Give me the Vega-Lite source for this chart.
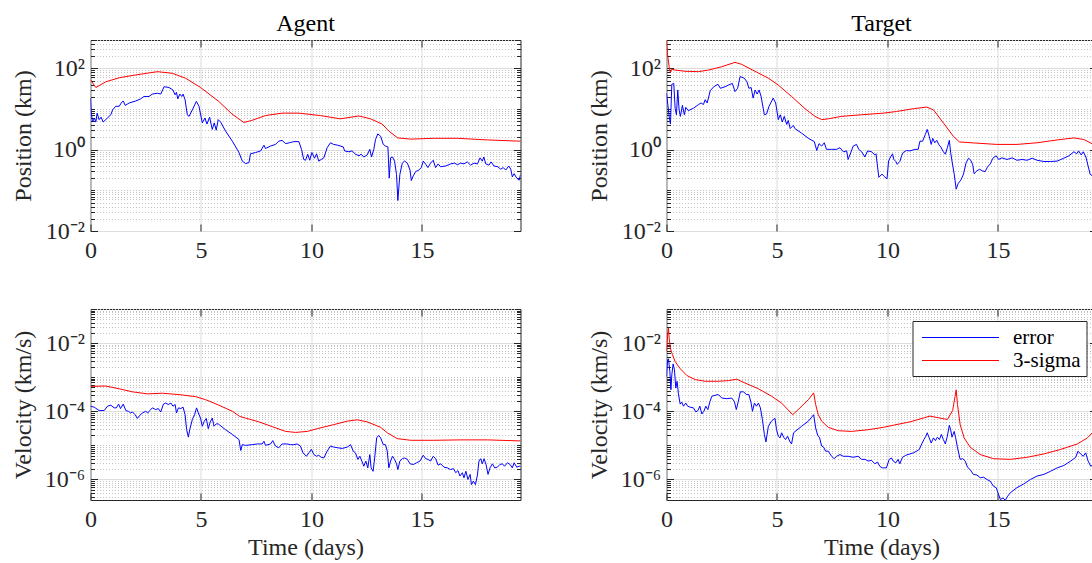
{
  "$schema": "https://vega.github.io/schema/vega-lite/v6.json",
  "background": "white",
  "padding": {"left": 10.5, "top": 11, "right": 0, "bottom": 0},
  "datasets": {
    "agentPos": [
      {"series":"3-sigma","t":0,"v":52.5},{"series":"3-sigma","t":0.24,"v":33.9},{"series":"3-sigma","t":0.69,"v":46.8},{"series":"3-sigma","t":1.3,"v":58.9},{"series":"3-sigma","t":2.05,"v":69.2},{"series":"3-sigma","t":3.03,"v":83.2},{"series":"3-sigma","t":3.7,"v":75.9},{"series":"3-sigma","t":4.3,"v":57.5},{"series":"3-sigma","t":4.98,"v":33.9},{"series":"3-sigma","t":5.8,"v":15.5},{"series":"3-sigma","t":6.4,"v":7.59},{"series":"3-sigma","t":6.94,"v":4.68},{"series":"3-sigma","t":7.3,"v":5.25},{"series":"3-sigma","t":7.92,"v":6.92},{"series":"3-sigma","t":8.67,"v":7.94},{"series":"3-sigma","t":9.43,"v":7.94},{"series":"3-sigma","t":10.4,"v":6.92},{"series":"3-sigma","t":11.3,"v":5.75},{"series":"3-sigma","t":12.15,"v":6.76},{"series":"3-sigma","t":12.67,"v":5.75},{"series":"3-sigma","t":13.2,"v":4.27},{"series":"3-sigma","t":13.5,"v":2.88},{"series":"3-sigma","t":13.9,"v":1.95},{"series":"3-sigma","t":14.5,"v":1.82},{"series":"3-sigma","t":15.55,"v":1.91},{"series":"3-sigma","t":16.6,"v":1.91},{"series":"3-sigma","t":17.96,"v":1.74},{"series":"3-sigma","t":19.46,"v":1.62},
      {"series":"error","t":0,"v":18.6},{"series":"error","t":0.03,"v":8.71},{"series":"error","t":0.09,"v":4.79},{"series":"error","t":0.18,"v":6.03},{"series":"error","t":0.24,"v":4.79},{"series":"error","t":0.3,"v":7.94},{"series":"error","t":0.39,"v":5.5},{"series":"error","t":0.48,"v":6.31},{"series":"error","t":0.57,"v":4.79},{"series":"error","t":0.69,"v":5.5},{"series":"error","t":0.92,"v":7.24},{"series":"error","t":1.0,"v":9.55},{"series":"error","t":1.14,"v":11.7},{"series":"error","t":1.3,"v":11.7},{"series":"error","t":1.39,"v":14.1},{"series":"error","t":1.48,"v":15.8},{"series":"error","t":1.57,"v":12.3},{"series":"error","t":1.75,"v":14.1},{"series":"error","t":2.05,"v":15.8},{"series":"error","t":2.27,"v":17.8},{"series":"error","t":2.42,"v":20.4},{"series":"error","t":2.65,"v":20.4},{"series":"error","t":2.8,"v":23.4},{"series":"error","t":3.03,"v":24.5},{"series":"error","t":3.18,"v":23.4},{"series":"error","t":3.33,"v":35.5},{"series":"error","t":3.55,"v":33.9},{"series":"error","t":3.73,"v":29.5},{"series":"error","t":3.83,"v":22.4},{"series":"error","t":3.89,"v":25.7},{"series":"error","t":3.95,"v":17.8},{"series":"error","t":4.04,"v":23.4},{"series":"error","t":4.13,"v":20.4},{"series":"error","t":4.19,"v":23.4},{"series":"error","t":4.28,"v":17.0},{"series":"error","t":4.38,"v":7.24},{"series":"error","t":4.46,"v":6.61},{"series":"error","t":4.61,"v":9.55},{"series":"error","t":4.79,"v":15.5},{"series":"error","t":4.91,"v":11.7},{"series":"error","t":5.06,"v":4.57},{"series":"error","t":5.18,"v":6.03},{"series":"error","t":5.27,"v":4.27},{"series":"error","t":5.39,"v":6.31},{"series":"error","t":5.51,"v":3.16},{"series":"error","t":5.6,"v":4.57},{"series":"error","t":5.69,"v":3.02},{"series":"error","t":5.78,"v":5.5},{"series":"error","t":5.89,"v":4.79},{"series":"error","t":6.11,"v":2.88},{"series":"error","t":6.42,"v":1.62},{"series":"error","t":6.72,"v":0.851},{"series":"error","t":6.87,"v":0.525},{"series":"error","t":7.02,"v":0.457},{"series":"error","t":7.17,"v":0.479},{"series":"error","t":7.24,"v":0.794},{"series":"error","t":7.47,"v":0.851},{"series":"error","t":7.7,"v":0.933},{"series":"error","t":7.85,"v":1.29},{"series":"error","t":7.92,"v":1.07},{"series":"error","t":8.15,"v":1.23},{"series":"error","t":8.37,"v":1.35},{"series":"error","t":8.52,"v":1.62},{"series":"error","t":8.67,"v":1.7},{"series":"error","t":8.83,"v":1.41},{"series":"error","t":9.0,"v":1.48},{"series":"error","t":9.2,"v":1.58},{"series":"error","t":9.43,"v":1.58},{"series":"error","t":9.55,"v":1.02},{"series":"error","t":9.65,"v":0.575},{"series":"error","t":9.73,"v":0.55},{"series":"error","t":9.83,"v":0.776},{"series":"error","t":9.92,"v":0.55},{"series":"error","t":10.02,"v":0.851},{"series":"error","t":10.14,"v":0.617},{"series":"error","t":10.23,"v":0.794},{"series":"error","t":10.33,"v":0.525},{"series":"error","t":10.44,"v":0.575},{"series":"error","t":10.56,"v":0.631},{"series":"error","t":10.71,"v":1.12},{"series":"error","t":10.86,"v":1.48},{"series":"error","t":11.0,"v":1.35},{"series":"error","t":11.19,"v":1.29},{"series":"error","t":11.44,"v":1.17},{"series":"error","t":11.5,"v":0.933},{"series":"error","t":11.69,"v":0.891},{"series":"error","t":11.84,"v":0.933},{"series":"error","t":11.99,"v":0.776},{"series":"error","t":12.15,"v":0.708},{"series":"error","t":12.25,"v":0.776},{"series":"error","t":12.37,"v":0.661},{"series":"error","t":12.52,"v":0.741},{"series":"error","t":12.64,"v":1.02},{"series":"error","t":12.72,"v":0.661},{"series":"error","t":12.82,"v":1.02},{"series":"error","t":12.9,"v":1.78},{"series":"error","t":13.0,"v":2.45},{"series":"error","t":13.13,"v":2.14},{"series":"error","t":13.25,"v":1.35},{"series":"error","t":13.35,"v":1.23},{"series":"error","t":13.46,"v":1.17},{"series":"error","t":13.52,"v":0.2},{"series":"error","t":13.58,"v":0.631},{"series":"error","t":13.67,"v":0.661},{"series":"error","t":13.76,"v":0.525},{"series":"error","t":13.85,"v":0.245},{"series":"error","t":13.91,"v":0.0562},{"series":"error","t":14.0,"v":0.245},{"series":"error","t":14.11,"v":0.468},{"series":"error","t":14.21,"v":0.525},{"series":"error","t":14.34,"v":0.468},{"series":"error","t":14.46,"v":0.316},{"series":"error","t":14.52,"v":0.174},{"series":"error","t":14.61,"v":0.229},{"series":"error","t":14.71,"v":0.288},{"series":"error","t":14.86,"v":0.316},{"series":"error","t":14.97,"v":0.363},{"series":"error","t":15.06,"v":0.525},{"series":"error","t":15.17,"v":0.437},{"series":"error","t":15.27,"v":0.363},{"series":"error","t":15.39,"v":0.468},{"series":"error","t":15.51,"v":0.55},{"series":"error","t":15.62,"v":0.363},{"series":"error","t":15.73,"v":0.447},{"series":"error","t":15.85,"v":0.38},{"series":"error","t":16.07,"v":0.398},{"series":"error","t":16.3,"v":0.447},{"series":"error","t":16.48,"v":0.468},{"series":"error","t":16.6,"v":0.427},{"series":"error","t":16.75,"v":0.468},{"series":"error","t":16.9,"v":0.447},{"series":"error","t":17.05,"v":0.501},{"series":"error","t":17.2,"v":0.417},{"series":"error","t":17.36,"v":0.468},{"series":"error","t":17.51,"v":0.447},{"series":"error","t":17.63,"v":0.631},{"series":"error","t":17.73,"v":0.525},{"series":"error","t":17.8,"v":0.661},{"series":"error","t":17.89,"v":0.447},{"series":"error","t":18.03,"v":0.417},{"series":"error","t":18.13,"v":0.501},{"series":"error","t":18.26,"v":0.398},{"series":"error","t":18.44,"v":0.38},{"series":"error","t":18.56,"v":0.331},{"series":"error","t":18.68,"v":0.363},{"series":"error","t":18.79,"v":0.316},{"series":"error","t":18.93,"v":0.398},{"series":"error","t":19.02,"v":0.331},{"series":"error","t":19.09,"v":0.214},{"series":"error","t":19.17,"v":0.257},{"series":"error","t":19.29,"v":0.2},{"series":"error","t":19.4,"v":0.178},{"series":"error","t":19.46,"v":0.245}
    ],
    "targetPos": [
      {"series":"3-sigma","t":0,"v":490},{"series":"3-sigma","t":0.05,"v":214},{"series":"3-sigma","t":0.12,"v":110},{"series":"3-sigma","t":0.18,"v":79.4},{"series":"3-sigma","t":0.24,"v":95.5},{"series":"3-sigma","t":0.39,"v":91.2},{"series":"3-sigma","t":0.84,"v":85.1},{"series":"3-sigma","t":1.45,"v":83.2},{"series":"3-sigma","t":1.9,"v":91.2},{"series":"3-sigma","t":2.5,"v":110},{"series":"3-sigma","t":3.1,"v":141},{"series":"3-sigma","t":3.4,"v":126},{"series":"3-sigma","t":4.0,"v":85.1},{"series":"3-sigma","t":4.61,"v":57.5},{"series":"3-sigma","t":5.06,"v":38.9},{"series":"3-sigma","t":5.66,"v":20.4},{"series":"3-sigma","t":6.27,"v":10.2},{"series":"3-sigma","t":6.72,"v":6.61},{"series":"3-sigma","t":7.02,"v":5.5},{"series":"3-sigma","t":7.32,"v":5.75},{"series":"3-sigma","t":7.92,"v":6.61},{"series":"3-sigma","t":8.83,"v":7.24},{"series":"3-sigma","t":9.82,"v":7.94},{"series":"3-sigma","t":10.41,"v":8.71},{"series":"3-sigma","t":11.17,"v":10.2},{"series":"3-sigma","t":11.77,"v":11.2},{"series":"3-sigma","t":12.08,"v":9.55},{"series":"3-sigma","t":12.53,"v":4.57},{"series":"3-sigma","t":12.98,"v":2.14},{"series":"3-sigma","t":13.26,"v":1.55},{"series":"3-sigma","t":14.05,"v":1.45},{"series":"3-sigma","t":14.95,"v":1.35},{"series":"3-sigma","t":15.86,"v":1.35},{"series":"3-sigma","t":16.77,"v":1.48},{"series":"3-sigma","t":17.68,"v":1.74},{"series":"3-sigma","t":18.44,"v":1.95},{"series":"3-sigma","t":18.89,"v":1.78},{"series":"3-sigma","t":19.32,"v":1.35},{"series":"3-sigma","t":19.46,"v":1.2},
      {"series":"error","t":0,"v":24.5},{"series":"error","t":0.06,"v":12.9},{"series":"error","t":0.12,"v":6.61},{"series":"error","t":0.18,"v":4.27},{"series":"error","t":0.24,"v":40.7},{"series":"error","t":0.33,"v":42.7},{"series":"error","t":0.39,"v":10.5},{"series":"error","t":0.45,"v":7.24},{"series":"error","t":0.51,"v":29.5},{"series":"error","t":0.57,"v":9.55},{"series":"error","t":0.63,"v":6.61},{"series":"error","t":0.72,"v":12.3},{"series":"error","t":0.81,"v":7.24},{"series":"error","t":0.87,"v":11.0},{"series":"error","t":0.99,"v":9.12},{"series":"error","t":1.22,"v":10.5},{"series":"error","t":1.45,"v":12.9},{"series":"error","t":1.57,"v":14.1},{"series":"error","t":1.67,"v":12.9},{"series":"error","t":1.75,"v":17.0},{"series":"error","t":1.84,"v":14.1},{"series":"error","t":1.98,"v":28.2},{"series":"error","t":2.14,"v":35.5},{"series":"error","t":2.33,"v":40.7},{"series":"error","t":2.44,"v":32.4},{"series":"error","t":2.65,"v":35.5},{"series":"error","t":2.88,"v":40.7},{"series":"error","t":2.98,"v":42.7},{"series":"error","t":3.1,"v":26.9},{"series":"error","t":3.22,"v":32.4},{"series":"error","t":3.33,"v":63.1},{"series":"error","t":3.52,"v":57.5},{"series":"error","t":3.64,"v":46.8},{"series":"error","t":3.73,"v":32.4},{"series":"error","t":3.83,"v":33.9},{"series":"error","t":3.92,"v":18.6},{"series":"error","t":4.01,"v":29.5},{"series":"error","t":4.1,"v":23.4},{"series":"error","t":4.19,"v":29.5},{"series":"error","t":4.28,"v":20.4},{"series":"error","t":4.43,"v":7.24},{"series":"error","t":4.53,"v":7.59},{"series":"error","t":4.64,"v":11.7},{"series":"error","t":4.83,"v":18.6},{"series":"error","t":4.94,"v":14.1},{"series":"error","t":5.06,"v":5.5},{"series":"error","t":5.15,"v":7.24},{"series":"error","t":5.24,"v":4.79},{"series":"error","t":5.33,"v":6.61},{"series":"error","t":5.44,"v":4.17},{"series":"error","t":5.51,"v":5.25},{"series":"error","t":5.6,"v":3.31},{"series":"error","t":5.74,"v":3.98},{"series":"error","t":5.81,"v":3.31},{"series":"error","t":6.11,"v":2.57},{"series":"error","t":6.42,"v":1.91},{"series":"error","t":6.69,"v":1.58},{"series":"error","t":6.8,"v":0.955},{"series":"error","t":6.9,"v":1.41},{"series":"error","t":7.02,"v":1.23},{"series":"error","t":7.14,"v":1.48},{"series":"error","t":7.24,"v":1.02},{"series":"error","t":7.47,"v":1.02},{"series":"error","t":7.7,"v":1.02},{"series":"error","t":7.85,"v":1.12},{"series":"error","t":8.0,"v":0.891},{"series":"error","t":8.15,"v":0.933},{"series":"error","t":8.22,"v":0.575},{"series":"error","t":8.34,"v":0.851},{"series":"error","t":8.45,"v":1.23},{"series":"error","t":8.6,"v":1.35},{"series":"error","t":8.7,"v":1.02},{"series":"error","t":8.83,"v":0.891},{"series":"error","t":8.98,"v":0.661},{"series":"error","t":9.1,"v":0.933},{"series":"error","t":9.28,"v":0.891},{"series":"error","t":9.43,"v":0.741},{"series":"error","t":9.48,"v":0.794},{"series":"error","t":9.61,"v":0.209},{"series":"error","t":9.75,"v":0.251},{"series":"error","t":9.88,"v":0.214},{"series":"error","t":9.98,"v":0.191},{"series":"error","t":10.05,"v":0.525},{"series":"error","t":10.14,"v":0.661},{"series":"error","t":10.23,"v":0.794},{"series":"error","t":10.29,"v":0.575},{"series":"error","t":10.38,"v":0.513},{"series":"error","t":10.44,"v":0.437},{"series":"error","t":10.56,"v":0.513},{"series":"error","t":10.64,"v":0.708},{"series":"error","t":10.71,"v":0.851},{"series":"error","t":10.86,"v":0.955},{"series":"error","t":11.02,"v":0.933},{"series":"error","t":11.24,"v":1.02},{"series":"error","t":11.39,"v":1.02},{"series":"error","t":11.47,"v":1.62},{"series":"error","t":11.59,"v":1.62},{"series":"error","t":11.71,"v":2.34},{"series":"error","t":11.8,"v":3.16},{"series":"error","t":11.89,"v":2.14},{"series":"error","t":11.98,"v":1.35},{"series":"error","t":12.05,"v":1.91},{"series":"error","t":12.14,"v":1.48},{"series":"error","t":12.23,"v":1.7},{"series":"error","t":12.32,"v":1.35},{"series":"error","t":12.41,"v":1.17},{"series":"error","t":12.53,"v":0.891},{"series":"error","t":12.62,"v":0.776},{"series":"error","t":12.71,"v":1.12},{"series":"error","t":12.8,"v":1.7},{"series":"error","t":12.86,"v":0.851},{"series":"error","t":12.92,"v":0.525},{"series":"error","t":13.02,"v":0.251},{"series":"error","t":13.11,"v":0.107},{"series":"error","t":13.2,"v":0.148},{"series":"error","t":13.32,"v":0.178},{"series":"error","t":13.44,"v":0.251},{"series":"error","t":13.56,"v":0.479},{"series":"error","t":13.67,"v":0.617},{"series":"error","t":13.77,"v":0.55},{"series":"error","t":13.86,"v":0.427},{"series":"error","t":13.92,"v":0.257},{"series":"error","t":14.05,"v":0.302},{"series":"error","t":14.17,"v":0.331},{"series":"error","t":14.29,"v":0.302},{"series":"error","t":14.42,"v":0.288},{"series":"error","t":14.53,"v":0.38},{"series":"error","t":14.65,"v":0.447},{"series":"error","t":14.77,"v":0.617},{"series":"error","t":14.92,"v":0.708},{"series":"error","t":15.03,"v":0.575},{"series":"error","t":15.18,"v":0.631},{"series":"error","t":15.41,"v":0.575},{"series":"error","t":15.64,"v":0.631},{"series":"error","t":15.86,"v":0.55},{"series":"error","t":16.09,"v":0.575},{"series":"error","t":16.32,"v":0.55},{"series":"error","t":16.55,"v":0.617},{"series":"error","t":16.77,"v":0.55},{"series":"error","t":17.08,"v":0.513},{"series":"error","t":17.38,"v":0.513},{"series":"error","t":17.68,"v":0.525},{"series":"error","t":17.98,"v":0.617},{"series":"error","t":18.21,"v":0.708},{"series":"error","t":18.44,"v":0.891},{"series":"error","t":18.56,"v":0.794},{"series":"error","t":18.65,"v":0.933},{"series":"error","t":18.77,"v":0.741},{"series":"error","t":18.86,"v":0.891},{"series":"error","t":18.98,"v":0.661},{"series":"error","t":19.08,"v":0.398},{"series":"error","t":19.17,"v":0.251},{"series":"error","t":19.27,"v":0.229},{"series":"error","t":19.32,"v":0.245},{"series":"error","t":19.46,"v":0.282}
    ],
    "agentVel": [
      {"series":"3-sigma","t":0,"v":5.37e-4},{"series":"3-sigma","t":0.69,"v":5.5e-4},{"series":"3-sigma","t":1.3,"v":4.57e-4},{"series":"3-sigma","t":1.9,"v":3.72e-4},{"series":"3-sigma","t":2.58,"v":3.24e-4},{"series":"3-sigma","t":3.25,"v":3.39e-4},{"series":"3-sigma","t":4.0,"v":3.09e-4},{"series":"3-sigma","t":4.76,"v":2.69e-4},{"series":"3-sigma","t":5.21,"v":2.19e-4},{"series":"3-sigma","t":5.81,"v":1.51e-4},{"series":"3-sigma","t":6.42,"v":1.0e-4},{"series":"3-sigma","t":6.75,"v":7.08e-5},{"series":"3-sigma","t":7.02,"v":6.31e-5},{"series":"3-sigma","t":7.62,"v":4.9e-5},{"series":"3-sigma","t":8.22,"v":3.55e-5},{"series":"3-sigma","t":8.83,"v":2.57e-5},{"series":"3-sigma","t":9.28,"v":2.4e-5},{"series":"3-sigma","t":9.82,"v":2.57e-5},{"series":"3-sigma","t":10.26,"v":3.09e-5},{"series":"3-sigma","t":11.01,"v":4.07e-5},{"series":"3-sigma","t":11.62,"v":5.13e-5},{"series":"3-sigma","t":12.07,"v":5.62e-5},{"series":"3-sigma","t":12.52,"v":4.9e-5},{"series":"3-sigma","t":13.13,"v":3.39e-5},{"series":"3-sigma","t":13.43,"v":2.34e-5},{"series":"3-sigma","t":13.88,"v":1.58e-5},{"series":"3-sigma","t":14.49,"v":1.41e-5},{"series":"3-sigma","t":15.54,"v":1.41e-5},{"series":"3-sigma","t":16.75,"v":1.45e-5},{"series":"3-sigma","t":17.96,"v":1.45e-5},{"series":"3-sigma","t":19.46,"v":1.35e-5},
      {"series":"error","t":0,"v":1.41e-4},{"series":"error","t":0.17,"v":1.32e-4},{"series":"error","t":0.39,"v":1.05e-4},{"series":"error","t":0.62,"v":1.05e-4},{"series":"error","t":0.77,"v":1.41e-4},{"series":"error","t":0.92,"v":1.51e-4},{"series":"error","t":1.07,"v":1.26e-4},{"series":"error","t":1.17,"v":1.26e-4},{"series":"error","t":1.27,"v":1.62e-4},{"series":"error","t":1.36,"v":1.2e-4},{"series":"error","t":1.48,"v":1.62e-4},{"series":"error","t":1.6,"v":1.05e-4},{"series":"error","t":1.72,"v":1.0e-4},{"series":"error","t":1.81,"v":8.91e-5},{"series":"error","t":1.9,"v":9.55e-5},{"series":"error","t":2.02,"v":7.94e-5},{"series":"error","t":2.12,"v":6.17e-5},{"series":"error","t":2.23,"v":7.59e-5},{"series":"error","t":2.35,"v":8.91e-5},{"series":"error","t":2.5,"v":1.0e-4},{"series":"error","t":2.59,"v":8.91e-5},{"series":"error","t":2.68,"v":1.05e-4},{"series":"error","t":2.8,"v":1.26e-4},{"series":"error","t":2.95,"v":1.12e-4},{"series":"error","t":3.07,"v":1.2e-4},{"series":"error","t":3.18,"v":9.55e-5},{"series":"error","t":3.3,"v":1.62e-4},{"series":"error","t":3.4,"v":1.74e-4},{"series":"error","t":3.52,"v":1.58e-4},{"series":"error","t":3.64,"v":1.74e-4},{"series":"error","t":3.73,"v":1.41e-4},{"series":"error","t":3.83,"v":1.58e-4},{"series":"error","t":3.89,"v":8.91e-5},{"series":"error","t":3.98,"v":1.26e-4},{"series":"error","t":4.08,"v":1.2e-4},{"series":"error","t":4.19,"v":1.32e-4},{"series":"error","t":4.28,"v":7.94e-5},{"series":"error","t":4.35,"v":2.88e-5},{"series":"error","t":4.43,"v":1.74e-5},{"series":"error","t":4.49,"v":2.88e-5},{"series":"error","t":4.61,"v":5.75e-5},{"series":"error","t":4.71,"v":7.94e-5},{"series":"error","t":4.8,"v":1.26e-4},{"series":"error","t":4.88,"v":8.91e-5},{"series":"error","t":4.98,"v":6.31e-5},{"series":"error","t":5.06,"v":3.63e-5},{"series":"error","t":5.15,"v":5.13e-5},{"series":"error","t":5.24,"v":6.17e-5},{"series":"error","t":5.33,"v":3.09e-5},{"series":"error","t":5.42,"v":4.9e-5},{"series":"error","t":5.51,"v":6.31e-5},{"series":"error","t":5.59,"v":3.63e-5},{"series":"error","t":5.69,"v":4.27e-5},{"series":"error","t":5.78,"v":4.27e-5},{"series":"error","t":6.11,"v":2.88e-5},{"series":"error","t":6.42,"v":2.09e-5},{"series":"error","t":6.72,"v":1.48e-5},{"series":"error","t":6.8,"v":7.08e-6},{"series":"error","t":6.87,"v":1.05e-5},{"series":"error","t":7.02,"v":1.0e-5},{"series":"error","t":7.32,"v":1.05e-5},{"series":"error","t":7.55,"v":1.1e-5},{"series":"error","t":7.77,"v":1.1e-5},{"series":"error","t":7.85,"v":1.32e-5},{"series":"error","t":7.92,"v":1.0e-5},{"series":"error","t":8.15,"v":1.1e-5},{"series":"error","t":8.25,"v":1.38e-5},{"series":"error","t":8.37,"v":9.55e-6},{"series":"error","t":8.52,"v":8.51e-6},{"series":"error","t":8.67,"v":1.1e-5},{"series":"error","t":8.9,"v":1.1e-5},{"series":"error","t":9.05,"v":1.05e-5},{"series":"error","t":9.2,"v":1.05e-5},{"series":"error","t":9.35,"v":1.1e-5},{"series":"error","t":9.5,"v":9.55e-6},{"series":"error","t":9.62,"v":6.03e-6},{"series":"error","t":9.77,"v":4.79e-6},{"series":"error","t":9.88,"v":6.03e-6},{"series":"error","t":10.0,"v":7.59e-6},{"series":"error","t":10.11,"v":5.37e-6},{"series":"error","t":10.23,"v":4.79e-6},{"series":"error","t":10.33,"v":5.13e-6},{"series":"error","t":10.44,"v":4.47e-6},{"series":"error","t":10.56,"v":4.27e-6},{"series":"error","t":10.71,"v":6.76e-6},{"series":"error","t":10.86,"v":9.55e-6},{"series":"error","t":11.01,"v":8.91e-6},{"series":"error","t":11.19,"v":8.51e-6},{"series":"error","t":11.39,"v":8.13e-6},{"series":"error","t":11.62,"v":8.91e-6},{"series":"error","t":11.77,"v":1.05e-5},{"series":"error","t":11.89,"v":6.76e-6},{"series":"error","t":11.99,"v":6.03e-6},{"series":"error","t":12.1,"v":3.89e-6},{"series":"error","t":12.19,"v":4.79e-6},{"series":"error","t":12.28,"v":3.47e-6},{"series":"error","t":12.37,"v":2.45e-6},{"series":"error","t":12.46,"v":3.47e-6},{"series":"error","t":12.55,"v":2.19e-6},{"series":"error","t":12.64,"v":5.37e-6},{"series":"error","t":12.7,"v":2.19e-6},{"series":"error","t":12.79,"v":1.74e-6},{"series":"error","t":12.86,"v":4.27e-6},{"series":"error","t":12.95,"v":1.66e-5},{"series":"error","t":13.04,"v":1.95e-5},{"series":"error","t":13.13,"v":1.66e-5},{"series":"error","t":13.25,"v":1.05e-5},{"series":"error","t":13.35,"v":1.05e-5},{"series":"error","t":13.43,"v":6.76e-6},{"series":"error","t":13.5,"v":2.19e-6},{"series":"error","t":13.58,"v":3.47e-6},{"series":"error","t":13.67,"v":4.79e-6},{"series":"error","t":13.76,"v":3.89e-6},{"series":"error","t":13.85,"v":2.88e-6},{"series":"error","t":13.91,"v":1.95e-6},{"series":"error","t":14.0,"v":3.47e-6},{"series":"error","t":14.11,"v":4.07e-6},{"series":"error","t":14.21,"v":4.27e-6},{"series":"error","t":14.34,"v":3.89e-6},{"series":"error","t":14.46,"v":2.88e-6},{"series":"error","t":14.61,"v":2.75e-6},{"series":"error","t":14.76,"v":3.09e-6},{"series":"error","t":14.91,"v":3.47e-6},{"series":"error","t":15.06,"v":5.13e-6},{"series":"error","t":15.17,"v":4.07e-6},{"series":"error","t":15.27,"v":3.89e-6},{"series":"error","t":15.39,"v":3.47e-6},{"series":"error","t":15.51,"v":4.79e-6},{"series":"error","t":15.62,"v":4.07e-6},{"series":"error","t":15.73,"v":2.63e-6},{"series":"error","t":15.85,"v":2.88e-6},{"series":"error","t":16.0,"v":2.29e-6},{"series":"error","t":16.15,"v":2.19e-6},{"series":"error","t":16.3,"v":1.95e-6},{"series":"error","t":16.42,"v":2.09e-6},{"series":"error","t":16.53,"v":1.58e-6},{"series":"error","t":16.63,"v":1.82e-6},{"series":"error","t":16.72,"v":1.26e-6},{"series":"error","t":16.83,"v":1.58e-6},{"series":"error","t":16.9,"v":1.12e-6},{"series":"error","t":16.99,"v":1.74e-6},{"series":"error","t":17.08,"v":1.0e-6},{"series":"error","t":17.18,"v":1.41e-6},{"series":"error","t":17.24,"v":7.08e-7},{"series":"error","t":17.33,"v":8.91e-7},{"series":"error","t":17.42,"v":7.08e-7},{"series":"error","t":17.51,"v":1.35e-6},{"series":"error","t":17.58,"v":3.47e-6},{"series":"error","t":17.66,"v":4.07e-6},{"series":"error","t":17.73,"v":2.88e-6},{"series":"error","t":17.81,"v":4.07e-6},{"series":"error","t":17.9,"v":2.75e-6},{"series":"error","t":17.99,"v":1.41e-6},{"series":"error","t":18.08,"v":2.19e-6},{"series":"error","t":18.19,"v":2.88e-6},{"series":"error","t":18.29,"v":2.19e-6},{"series":"error","t":18.41,"v":2.29e-6},{"series":"error","t":18.53,"v":2.75e-6},{"series":"error","t":18.64,"v":2.88e-6},{"series":"error","t":18.74,"v":2.45e-6},{"series":"error","t":18.87,"v":3.09e-6},{"series":"error","t":18.99,"v":2.75e-6},{"series":"error","t":19.09,"v":2.19e-6},{"series":"error","t":19.17,"v":3.09e-6},{"series":"error","t":19.29,"v":2.29e-6},{"series":"error","t":19.4,"v":2.45e-6},{"series":"error","t":19.46,"v":2.45e-6}
    ],
    "targetVel": [
      {"series":"3-sigma","t":0,"v":5.75e-3},{"series":"3-sigma","t":0.05,"v":1.74e-2},{"series":"3-sigma","t":0.09,"v":2.75e-2},{"series":"3-sigma","t":0.12,"v":1.41e-2},{"series":"3-sigma","t":0.18,"v":6.76e-3},{"series":"3-sigma","t":0.27,"v":4.57e-3},{"series":"3-sigma","t":0.39,"v":2.88e-3},{"series":"3-sigma","t":0.62,"v":1.78e-3},{"series":"3-sigma","t":0.92,"v":1.12e-3},{"series":"3-sigma","t":1.3,"v":8.51e-4},{"series":"3-sigma","t":1.75,"v":7.59e-4},{"series":"3-sigma","t":2.35,"v":7.59e-4},{"series":"3-sigma","t":2.8,"v":7.94e-4},{"series":"3-sigma","t":3.18,"v":8.71e-4},{"series":"3-sigma","t":3.55,"v":6.76e-4},{"series":"3-sigma","t":4.16,"v":4.57e-4},{"series":"3-sigma","t":4.76,"v":2.75e-4},{"series":"3-sigma","t":5.21,"v":1.74e-4},{"series":"3-sigma","t":5.71,"v":7.94e-5},{"series":"3-sigma","t":5.96,"v":1.12e-4},{"series":"3-sigma","t":6.42,"v":2.19e-4},{"series":"3-sigma","t":6.66,"v":3.47e-4},{"series":"3-sigma","t":6.75,"v":1.58e-4},{"series":"3-sigma","t":6.87,"v":7.94e-5},{"series":"3-sigma","t":7.02,"v":5.13e-5},{"series":"3-sigma","t":7.32,"v":3.39e-5},{"series":"3-sigma","t":7.77,"v":2.69e-5},{"series":"3-sigma","t":8.37,"v":2.57e-5},{"series":"3-sigma","t":9.13,"v":2.88e-5},{"series":"3-sigma","t":9.82,"v":3.39e-5},{"series":"3-sigma","t":10.26,"v":3.89e-5},{"series":"3-sigma","t":11.02,"v":4.9e-5},{"series":"3-sigma","t":11.62,"v":6.31e-5},{"series":"3-sigma","t":11.92,"v":7.24e-5},{"series":"3-sigma","t":12.38,"v":6.31e-5},{"series":"3-sigma","t":12.71,"v":5.75e-5},{"series":"3-sigma","t":12.95,"v":1.05e-4},{"series":"3-sigma","t":13.06,"v":2.75e-4},{"series":"3-sigma","t":13.11,"v":4.27e-4},{"series":"3-sigma","t":13.17,"v":1.58e-4},{"series":"3-sigma","t":13.29,"v":4.07e-5},{"series":"3-sigma","t":13.47,"v":1.66e-5},{"series":"3-sigma","t":13.74,"v":8.91e-6},{"series":"3-sigma","t":14.2,"v":5.37e-6},{"series":"3-sigma","t":14.8,"v":4.07e-6},{"series":"3-sigma","t":15.56,"v":3.89e-6},{"series":"3-sigma","t":16.32,"v":4.47e-6},{"series":"3-sigma","t":17.08,"v":5.62e-6},{"series":"3-sigma","t":17.83,"v":7.59e-6},{"series":"3-sigma","t":18.59,"v":1.1e-5},{"series":"3-sigma","t":19.05,"v":1.66e-5},{"series":"3-sigma","t":19.27,"v":2.34e-5},{"series":"3-sigma","t":19.46,"v":3.55e-5},
      {"series":"error","t":0,"v":1.05e-3},{"series":"error","t":0.05,"v":3.24e-3},{"series":"error","t":0.09,"v":3.47e-3},{"series":"error","t":0.15,"v":1.48e-3},{"series":"error","t":0.2,"v":4.27e-4},{"series":"error","t":0.24,"v":1.17e-3},{"series":"error","t":0.3,"v":2.45e-3},{"series":"error","t":0.36,"v":1.66e-3},{"series":"error","t":0.42,"v":4.79e-4},{"series":"error","t":0.48,"v":7.59e-4},{"series":"error","t":0.54,"v":3.24e-4},{"series":"error","t":0.62,"v":1.62e-4},{"series":"error","t":0.69,"v":1.86e-4},{"series":"error","t":0.77,"v":1.41e-4},{"series":"error","t":0.87,"v":1.74e-4},{"series":"error","t":0.96,"v":1.41e-4},{"series":"error","t":1.07,"v":1.32e-4},{"series":"error","t":1.22,"v":1.26e-4},{"series":"error","t":1.33,"v":9.55e-5},{"series":"error","t":1.42,"v":1.05e-4},{"series":"error","t":1.51,"v":1.41e-4},{"series":"error","t":1.6,"v":8.32e-5},{"series":"error","t":1.69,"v":1.0e-4},{"series":"error","t":1.78,"v":1.41e-4},{"series":"error","t":1.87,"v":1.12e-4},{"series":"error","t":1.97,"v":1.95e-4},{"series":"error","t":2.05,"v":2.75e-4},{"series":"error","t":2.2,"v":2.95e-4},{"series":"error","t":2.35,"v":3.09e-4},{"series":"error","t":2.5,"v":2.45e-4},{"series":"error","t":2.73,"v":2.34e-4},{"series":"error","t":2.95,"v":2.45e-4},{"series":"error","t":3.07,"v":1.95e-4},{"series":"error","t":3.16,"v":1.12e-4},{"series":"error","t":3.25,"v":1.95e-4},{"series":"error","t":3.34,"v":3.72e-4},{"series":"error","t":3.48,"v":3.72e-4},{"series":"error","t":3.63,"v":3.09e-4},{"series":"error","t":3.73,"v":3.09e-4},{"series":"error","t":3.83,"v":1.74e-4},{"series":"error","t":3.89,"v":1.0e-4},{"series":"error","t":3.98,"v":1.74e-4},{"series":"error","t":4.07,"v":1.41e-4},{"series":"error","t":4.16,"v":1.74e-4},{"series":"error","t":4.25,"v":1.26e-4},{"series":"error","t":4.34,"v":5.75e-5},{"series":"error","t":4.43,"v":2.09e-5},{"series":"error","t":4.5,"v":1.26e-5},{"series":"error","t":4.61,"v":3.63e-5},{"series":"error","t":4.73,"v":4.9e-5},{"series":"error","t":4.83,"v":5.75e-5},{"series":"error","t":4.91,"v":6.17e-5},{"series":"error","t":4.98,"v":2.88e-5},{"series":"error","t":5.06,"v":1.86e-5},{"series":"error","t":5.14,"v":1.66e-5},{"series":"error","t":5.21,"v":2.34e-5},{"series":"error","t":5.3,"v":1.74e-5},{"series":"error","t":5.39,"v":1.48e-5},{"series":"error","t":5.48,"v":1.86e-5},{"series":"error","t":5.59,"v":1.26e-5},{"series":"error","t":5.66,"v":1.1e-5},{"series":"error","t":5.75,"v":2.34e-5},{"series":"error","t":6.11,"v":3.63e-5},{"series":"error","t":6.42,"v":5.13e-5},{"series":"error","t":6.66,"v":7.94e-5},{"series":"error","t":6.75,"v":3.24e-5},{"series":"error","t":6.84,"v":2.0e-5},{"series":"error","t":6.93,"v":1.66e-5},{"series":"error","t":7.02,"v":9.55e-6},{"series":"error","t":7.11,"v":8.91e-6},{"series":"error","t":7.2,"v":6.76e-6},{"series":"error","t":7.32,"v":6.76e-6},{"series":"error","t":7.47,"v":4.79e-6},{"series":"error","t":7.59,"v":4.07e-6},{"series":"error","t":7.7,"v":4.79e-6},{"series":"error","t":7.85,"v":5.37e-6},{"series":"error","t":8.0,"v":4.79e-6},{"series":"error","t":8.22,"v":4.79e-6},{"series":"error","t":8.45,"v":4.47e-6},{"series":"error","t":8.67,"v":4.79e-6},{"series":"error","t":8.83,"v":3.89e-6},{"series":"error","t":8.98,"v":3.89e-6},{"series":"error","t":9.13,"v":3.47e-6},{"series":"error","t":9.28,"v":3.63e-6},{"series":"error","t":9.43,"v":2.88e-6},{"series":"error","t":9.55,"v":3.24e-6},{"series":"error","t":9.65,"v":2.45e-6},{"series":"error","t":9.76,"v":2.19e-6},{"series":"error","t":9.83,"v":2.19e-6},{"series":"error","t":9.95,"v":2.19e-6},{"series":"error","t":10.08,"v":3.89e-6},{"series":"error","t":10.18,"v":4.27e-6},{"series":"error","t":10.26,"v":3.47e-6},{"series":"error","t":10.38,"v":3.09e-6},{"series":"error","t":10.48,"v":3.89e-6},{"series":"error","t":10.56,"v":2.88e-6},{"series":"error","t":10.68,"v":4.47e-6},{"series":"error","t":10.83,"v":5.13e-6},{"series":"error","t":11.02,"v":5.62e-6},{"series":"error","t":11.17,"v":6.03e-6},{"series":"error","t":11.32,"v":6.76e-6},{"series":"error","t":11.44,"v":7.59e-6},{"series":"error","t":11.55,"v":1.1e-5},{"series":"error","t":11.65,"v":1.48e-5},{"series":"error","t":11.74,"v":1.86e-5},{"series":"error","t":11.8,"v":2.34e-5},{"series":"error","t":11.89,"v":1.66e-5},{"series":"error","t":11.98,"v":1.17e-5},{"series":"error","t":12.08,"v":1.66e-5},{"series":"error","t":12.17,"v":1.38e-5},{"series":"error","t":12.26,"v":1.74e-5},{"series":"error","t":12.35,"v":1.48e-5},{"series":"error","t":12.44,"v":2.09e-5},{"series":"error","t":12.53,"v":1.48e-5},{"series":"error","t":12.62,"v":1.1e-5},{"series":"error","t":12.71,"v":1.86e-5},{"series":"error","t":12.8,"v":3.89e-5},{"series":"error","t":12.86,"v":2.88e-5},{"series":"error","t":12.92,"v":1.74e-5},{"series":"error","t":13.02,"v":2.57e-5},{"series":"error","t":13.08,"v":1.74e-5},{"series":"error","t":13.17,"v":8.51e-6},{"series":"error","t":13.29,"v":3.89e-6},{"series":"error","t":13.41,"v":4.07e-6},{"series":"error","t":13.52,"v":3.47e-6},{"series":"error","t":13.62,"v":2.29e-6},{"series":"error","t":13.74,"v":1.95e-6},{"series":"error","t":13.89,"v":1.41e-6},{"series":"error","t":14.05,"v":1.35e-6},{"series":"error","t":14.2,"v":1.12e-6},{"series":"error","t":14.35,"v":1.17e-6},{"series":"error","t":14.5,"v":1.0e-6},{"series":"error","t":14.65,"v":8.91e-7},{"series":"error","t":14.8,"v":6.31e-7},{"series":"error","t":14.92,"v":5.75e-7},{"series":"error","t":15.03,"v":3.63e-7},{"series":"error","t":15.11,"v":2.57e-7},{"series":"error","t":15.23,"v":2.88e-7},{"series":"error","t":15.33,"v":2.45e-7},{"series":"error","t":15.44,"v":3.24e-7},{"series":"error","t":15.56,"v":4.07e-7},{"series":"error","t":15.86,"v":5.75e-7},{"series":"error","t":16.17,"v":7.41e-7},{"series":"error","t":16.47,"v":1.0e-6},{"series":"error","t":16.77,"v":1.26e-6},{"series":"error","t":17.08,"v":1.41e-6},{"series":"error","t":17.38,"v":1.74e-6},{"series":"error","t":17.68,"v":2.19e-6},{"series":"error","t":17.98,"v":2.57e-6},{"series":"error","t":18.29,"v":3.47e-6},{"series":"error","t":18.52,"v":4.47e-6},{"series":"error","t":18.62,"v":6.76e-6},{"series":"error","t":18.74,"v":5.62e-6},{"series":"error","t":18.86,"v":4.79e-6},{"series":"error","t":18.97,"v":6.03e-6},{"series":"error","t":19.08,"v":3.47e-6},{"series":"error","t":19.2,"v":2.45e-6},{"series":"error","t":19.32,"v":2.75e-6},{"series":"error","t":19.46,"v":3.16e-6}
    ]
  },
  "columns": 2,
  "spacing": {"row": 78, "column": 146},
  "bounds": "flush",
  "resolve": {"scale": {"color": "independent", "x": "independent", "y": "independent"}, "legend": {"color": "independent"}},
  "concat": [
    {
      "title": {"text": "Agent"},
      "width": 430, "height": 191,
      "data": {"name": "agentPos"},
      "layer": [
        {
          "mark": {"type": "line", "strokeWidth": 1, "clip": true},
          "encoding": {
            "x": {"field": "t", "type": "quantitative", "scale": {"domain": [0, 19.46], "nice": false, "zero": false},
                  "axis": {"orient": "bottom", "values": [0, 5, 10, 15], "title": null, "grid": true, "tickSize": -7, "labelPadding": 26, "labelBaseline": "middle"}},
            "y": {"field": "v", "type": "quantitative", "scale": {"type": "log", "domain": [0.01, 500], "nice": false},
                  "axis": {"orient": "left", "title": "Position (km)", "titleX": -67, "titleY": 95.5, "titleAlign": "center", "titleBaseline": "middle", "titleAngle": -90,
                           "values": [0.01,0.02,0.03,0.04,0.05,0.06,0.07,0.08,0.09,0.1,0.2,0.3,0.4,0.5,0.6,0.7,0.8,0.9,1,2,3,4,5,6,7,8,9,10,20,30,40,50,60,70,80,90,100,200,300,400,500],
                           "labelExpr": "datum.value == 100 ? '10²' : datum.value == 1 ? '10⁰' : datum.value == 0.01 ? '10⁻²' : ''",
                           "grid": true,
                           "gridDash": {"condition": {"test": "datum.value == 100 || datum.value == 1 || datum.value == 0.01", "value": []}, "value": [1, 2]},
                           "gridColor": {"condition": {"test": "datum.value == 100 || datum.value == 1 || datum.value == 0.01", "value": "#dddddd"}, "value": "#c4c4c4"},
                           "tickSize": {"condition": {"test": "datum.value == 100 || datum.value == 1 || datum.value == 0.01", "value": -7}, "value": -4},
                           "labelPadding": 13}},
            "color": {"field": "series", "type": "nominal", "scale": {"domain": ["error", "3-sigma"], "range": ["#0000ff", "#ff0000"]}, "legend": null}
          }
        },
        {
          "mark": {"type": "line", "opacity": 0},
          "encoding": {
            "x": {"field": "t", "type": "quantitative", "scale": {"domain": [0, 19.46], "nice": false, "zero": false},
                  "axis": {"orient": "top", "values": [5, 10, 15], "title": null, "labels": false, "grid": false, "tickSize": -7, "minExtent": 0, "maxExtent": 0}},
            "y": {"field": "v", "type": "quantitative", "scale": {"type": "log", "domain": [0.01, 500], "nice": false},
                  "axis": {"orient": "right", "title": null, "labels": false, "grid": false, "minExtent": 0, "maxExtent": 0,
                           "values": [0.01,0.02,0.03,0.04,0.05,0.06,0.07,0.08,0.09,0.1,0.2,0.3,0.4,0.5,0.6,0.7,0.8,0.9,1,2,3,4,5,6,7,8,9,10,20,30,40,50,60,70,80,90,100,200,300,400,500],
                           "tickSize": {"condition": {"test": "datum.value == 100 || datum.value == 1 || datum.value == 0.01", "value": -7}, "value": -4}}}
          }
        }
      ],
      "resolve": {"axis": {"x": "independent", "y": "independent"}}
    },
    {
      "title": {"text": "Target"},
      "width": 430, "height": 191,
      "data": {"name": "targetPos"},
      "layer": [
        {
          "mark": {"type": "line", "strokeWidth": 1, "clip": true},
          "encoding": {
            "x": {"field": "t", "type": "quantitative", "scale": {"domain": [0, 19.46], "nice": false, "zero": false},
                  "axis": {"orient": "bottom", "values": [0, 5, 10, 15], "title": null, "grid": true, "tickSize": -7, "labelPadding": 26, "labelBaseline": "middle"}},
            "y": {"field": "v", "type": "quantitative", "scale": {"type": "log", "domain": [0.01, 500], "nice": false},
                  "axis": {"orient": "left", "title": "Position (km)", "titleX": -67, "titleY": 95.5, "titleAlign": "center", "titleBaseline": "middle", "titleAngle": -90,
                           "values": [0.01,0.02,0.03,0.04,0.05,0.06,0.07,0.08,0.09,0.1,0.2,0.3,0.4,0.5,0.6,0.7,0.8,0.9,1,2,3,4,5,6,7,8,9,10,20,30,40,50,60,70,80,90,100,200,300,400,500],
                           "labelExpr": "datum.value == 100 ? '10²' : datum.value == 1 ? '10⁰' : datum.value == 0.01 ? '10⁻²' : ''",
                           "grid": true,
                           "gridDash": {"condition": {"test": "datum.value == 100 || datum.value == 1 || datum.value == 0.01", "value": []}, "value": [1, 2]},
                           "gridColor": {"condition": {"test": "datum.value == 100 || datum.value == 1 || datum.value == 0.01", "value": "#dddddd"}, "value": "#c4c4c4"},
                           "tickSize": {"condition": {"test": "datum.value == 100 || datum.value == 1 || datum.value == 0.01", "value": -7}, "value": -4},
                           "labelPadding": 13}},
            "color": {"field": "series", "type": "nominal", "scale": {"domain": ["error", "3-sigma"], "range": ["#0000ff", "#ff0000"]}, "legend": null}
          }
        },
        {
          "mark": {"type": "line", "opacity": 0},
          "encoding": {
            "x": {"field": "t", "type": "quantitative", "scale": {"domain": [0, 19.46], "nice": false, "zero": false},
                  "axis": {"orient": "top", "values": [5, 10, 15], "title": null, "labels": false, "grid": false, "tickSize": -7, "minExtent": 0, "maxExtent": 0}},
            "y": {"field": "v", "type": "quantitative", "scale": {"type": "log", "domain": [0.01, 500], "nice": false},
                  "axis": {"orient": "right", "title": null, "labels": false, "grid": false, "minExtent": 0, "maxExtent": 0,
                           "values": [0.01,0.02,0.03,0.04,0.05,0.06,0.07,0.08,0.09,0.1,0.2,0.3,0.4,0.5,0.6,0.7,0.8,0.9,1,2,3,4,5,6,7,8,9,10,20,30,40,50,60,70,80,90,100,200,300,400,500],
                           "tickSize": {"condition": {"test": "datum.value == 100 || datum.value == 1 || datum.value == 0.01", "value": -7}, "value": -4}}}
          }
        }
      ],
      "resolve": {"axis": {"x": "independent", "y": "independent"}}
    },
    {
      "width": 430, "height": 191,
      "data": {"name": "agentVel"},
      "layer": [
        {
          "mark": {"type": "line", "strokeWidth": 1, "clip": true},
          "encoding": {
            "x": {"field": "t", "type": "quantitative", "scale": {"domain": [0, 19.46], "nice": false, "zero": false},
                  "axis": {"orient": "bottom", "values": [0, 5, 10, 15], "title": "Time (days)", "titleY": 47, "titleBaseline": "middle", "grid": true, "tickSize": -7, "labelPadding": 26, "labelBaseline": "middle"}},
            "y": {"field": "v", "type": "quantitative", "scale": {"type": "log", "domain": [2.5e-7, 0.1], "nice": false},
                  "axis": {"orient": "left", "title": "Velocity (km/s)", "titleX": -67, "titleY": 95.5, "titleAlign": "center", "titleBaseline": "middle", "titleAngle": -90,
                           "values": [3e-7,4e-7,5e-7,6e-7,7e-7,8e-7,9e-7,1e-6,2e-6,3e-6,4e-6,5e-6,6e-6,7e-6,8e-6,9e-6,1e-5,2e-5,3e-5,4e-5,5e-5,6e-5,7e-5,8e-5,9e-5,1e-4,2e-4,3e-4,4e-4,5e-4,6e-4,7e-4,8e-4,9e-4,1e-3,2e-3,3e-3,4e-3,5e-3,6e-3,7e-3,8e-3,9e-3,0.01,0.02,0.03,0.04,0.05,0.06,0.07,0.08,0.09,0.1],
                           "labelExpr": "datum.value == 0.01 ? '10⁻²' : datum.value == 0.0001 ? '10⁻⁴' : datum.value == 0.000001 ? '10⁻⁶' : ''",
                           "grid": true,
                           "gridDash": {"condition": {"test": "datum.value == 0.01 || datum.value == 0.0001 || datum.value == 0.000001", "value": []}, "value": [1, 2]},
                           "gridColor": {"condition": {"test": "datum.value == 0.01 || datum.value == 0.0001 || datum.value == 0.000001", "value": "#dddddd"}, "value": "#c4c4c4"},
                           "tickSize": {"condition": {"test": "datum.value == 0.01 || datum.value == 0.0001 || datum.value == 0.000001", "value": -7}, "value": -4},
                           "labelPadding": 13}},
            "color": {"field": "series", "type": "nominal", "scale": {"domain": ["error", "3-sigma"], "range": ["#0000ff", "#ff0000"]}, "legend": null}
          }
        },
        {
          "mark": {"type": "line", "opacity": 0},
          "encoding": {
            "x": {"field": "t", "type": "quantitative", "scale": {"domain": [0, 19.46], "nice": false, "zero": false},
                  "axis": {"orient": "top", "values": [5, 10, 15], "title": null, "labels": false, "grid": false, "tickSize": -7, "minExtent": 0, "maxExtent": 0}},
            "y": {"field": "v", "type": "quantitative", "scale": {"type": "log", "domain": [2.5e-7, 0.1], "nice": false},
                  "axis": {"orient": "right", "title": null, "labels": false, "grid": false, "minExtent": 0, "maxExtent": 0,
                           "values": [3e-7,4e-7,5e-7,6e-7,7e-7,8e-7,9e-7,1e-6,2e-6,3e-6,4e-6,5e-6,6e-6,7e-6,8e-6,9e-6,1e-5,2e-5,3e-5,4e-5,5e-5,6e-5,7e-5,8e-5,9e-5,1e-4,2e-4,3e-4,4e-4,5e-4,6e-4,7e-4,8e-4,9e-4,1e-3,2e-3,3e-3,4e-3,5e-3,6e-3,7e-3,8e-3,9e-3,0.01,0.02,0.03,0.04,0.05,0.06,0.07,0.08,0.09,0.1],
                           "tickSize": {"condition": {"test": "datum.value == 0.01 || datum.value == 0.0001 || datum.value == 0.000001", "value": -7}, "value": -4}}}
          }
        }
      ],
      "resolve": {"axis": {"x": "independent", "y": "independent"}}
    },
    {
      "width": 430, "height": 191,
      "data": {"name": "targetVel"},
      "layer": [
        {
          "mark": {"type": "line", "strokeWidth": 1, "clip": true},
          "encoding": {
            "x": {"field": "t", "type": "quantitative", "scale": {"domain": [0, 19.46], "nice": false, "zero": false},
                  "axis": {"orient": "bottom", "values": [0, 5, 10, 15], "title": "Time (days)", "titleY": 47, "titleBaseline": "middle", "grid": true, "tickSize": -7, "labelPadding": 26, "labelBaseline": "middle"}},
            "y": {"field": "v", "type": "quantitative", "scale": {"type": "log", "domain": [2.5e-7, 0.1], "nice": false},
                  "axis": {"orient": "left", "title": "Velocity (km/s)", "titleX": -67, "titleY": 95.5, "titleAlign": "center", "titleBaseline": "middle", "titleAngle": -90,
                           "values": [3e-7,4e-7,5e-7,6e-7,7e-7,8e-7,9e-7,1e-6,2e-6,3e-6,4e-6,5e-6,6e-6,7e-6,8e-6,9e-6,1e-5,2e-5,3e-5,4e-5,5e-5,6e-5,7e-5,8e-5,9e-5,1e-4,2e-4,3e-4,4e-4,5e-4,6e-4,7e-4,8e-4,9e-4,1e-3,2e-3,3e-3,4e-3,5e-3,6e-3,7e-3,8e-3,9e-3,0.01,0.02,0.03,0.04,0.05,0.06,0.07,0.08,0.09,0.1],
                           "labelExpr": "datum.value == 0.01 ? '10⁻²' : datum.value == 0.0001 ? '10⁻⁴' : datum.value == 0.000001 ? '10⁻⁶' : ''",
                           "grid": true,
                           "gridDash": {"condition": {"test": "datum.value == 0.01 || datum.value == 0.0001 || datum.value == 0.000001", "value": []}, "value": [1, 2]},
                           "gridColor": {"condition": {"test": "datum.value == 0.01 || datum.value == 0.0001 || datum.value == 0.000001", "value": "#dddddd"}, "value": "#c4c4c4"},
                           "tickSize": {"condition": {"test": "datum.value == 0.01 || datum.value == 0.0001 || datum.value == 0.000001", "value": -7}, "value": -4},
                           "labelPadding": 13}},
            "color": {"field": "series", "type": "nominal", "scale": {"domain": ["error", "3-sigma"], "range": ["#0000ff", "#ff0000"]},
                      "legend": {"orient": "none", "legendX": 246, "legendY": 12, "title": null, "symbolType": "M-3.5,0H3.5", "symbolSize": 484, "symbolStrokeWidth": 1, "symbolOffset": 31.5,
                                 "labelFontSize": 21, "labelOffset": 41, "padding": 5, "rowPadding": 1, "strokeColor": "#262626", "fillColor": "white"}}
          }
        },
        {
          "mark": {"type": "line", "opacity": 0},
          "encoding": {
            "x": {"field": "t", "type": "quantitative", "scale": {"domain": [0, 19.46], "nice": false, "zero": false},
                  "axis": {"orient": "top", "values": [5, 10, 15], "title": null, "labels": false, "grid": false, "tickSize": -7, "minExtent": 0, "maxExtent": 0}},
            "y": {"field": "v", "type": "quantitative", "scale": {"type": "log", "domain": [2.5e-7, 0.1], "nice": false},
                  "axis": {"orient": "right", "title": null, "labels": false, "grid": false, "minExtent": 0, "maxExtent": 0,
                           "values": [3e-7,4e-7,5e-7,6e-7,7e-7,8e-7,9e-7,1e-6,2e-6,3e-6,4e-6,5e-6,6e-6,7e-6,8e-6,9e-6,1e-5,2e-5,3e-5,4e-5,5e-5,6e-5,7e-5,8e-5,9e-5,1e-4,2e-4,3e-4,4e-4,5e-4,6e-4,7e-4,8e-4,9e-4,1e-3,2e-3,3e-3,4e-3,5e-3,6e-3,7e-3,8e-3,9e-3,0.01,0.02,0.03,0.04,0.05,0.06,0.07,0.08,0.09,0.1],
                           "tickSize": {"condition": {"test": "datum.value == 0.01 || datum.value == 0.0001 || datum.value == 0.000001", "value": -7}, "value": -4}}}
          }
        }
      ],
      "resolve": {"axis": {"x": "independent", "y": "independent"}}
    }
  ],
  "config": {
    "font": "Liberation Serif",
    "view": {"stroke": "#262626", "strokeWidth": 1},
    "axis": {
      "labelFont": "Liberation Serif", "labelFontSize": 24, "labelColor": "#262626",
      "titleFont": "Liberation Serif", "titleFontSize": 24, "titleFontWeight": "normal", "titleColor": "#262626",
      "domain": false, "tickColor": "#262626", "tickWidth": 1,
      "gridColor": "#dddddd", "gridWidth": 1,
      "labelFlush": false, "labelOverlap": false, "labelBound": false
    },
    "title": {"font": "Liberation Serif", "fontSize": 24, "fontWeight": "normal", "color": "#000000", "baseline": "alphabetic", "offset": -7.8, "frame": "group"},
    "legend": {"labelFont": "Liberation Serif", "labelColor": "#000000"}
  }
}
